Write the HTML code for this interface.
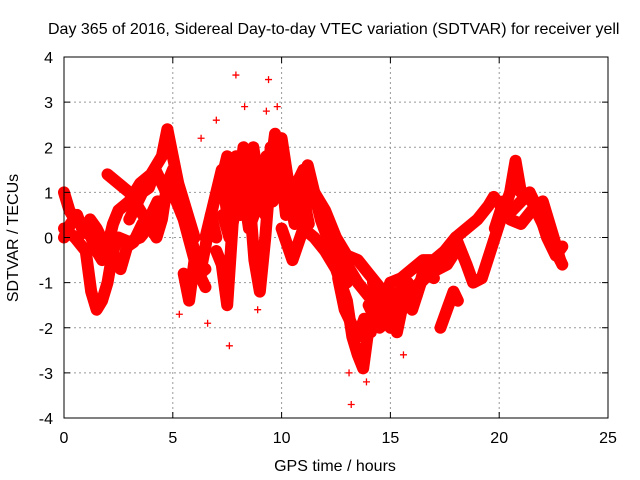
<!DOCTYPE html>
<html><head><meta charset="utf-8"><style>
body{margin:0;background:#fff;}
svg{display:block;font-family:"Liberation Sans",sans-serif;}
</style></head><body>
<svg id="chart" width="640" height="480">
<text x="48" y="34" font-size="16" fill="#000">Day 365 of 2016, Sidereal Day-to-day VTEC variation (SDTVAR) for receiver yell</text>
<g id="grid"></g>
<g id="marks"></g>
<rect x="64" y="57" width="544" height="361" fill="none" stroke="#000" stroke-width="1"/>
<g id="ticks"></g>
<text x="335" y="471" font-size="16" text-anchor="middle">GPS time / hours</text>
<text transform="translate(18,238) rotate(-90)" font-size="16" text-anchor="middle">SDTVAR / TECUs</text>
</svg>
<script>
const xTicks=[0,5,10,15,20,25];
const yTicks=[-4,-3,-2,-1,0,1,2,3,4];
const trackA=[[0,1.0],[0.25,0.6],[0.5,0.4],[0.75,0.3],[1,0.2],[1.25,0.0],[1.5,-0.3],[1.75,-0.5],[2,-0.2],[2.25,0.3],[2.5,0.6],[2.75,0.7],[3,0.8],[3.5,1.2],[4,1.4],[4.5,1.8],[4.75,2.4],[5,1.8],[5.25,1.2],[5.5,0.8],[5.75,0.4],[6,0.0]];
const trackB=[[0,0.2],[0.5,0.0],[1,-0.3],[1.25,-1.2],[1.5,-1.6],[1.75,-1.4],[2,-1.0],[2.25,-0.3],[2.5,0.0],[3,-0.1],[3.5,0.0],[4,0.3],[4.5,0.8],[5,1.0],[5.5,0.4],[6,-0.5],[6.25,-0.8],[6.5,-0.7]];
const trackC=[[2,1.4],[2.5,1.2],[3,1.0],[3.5,0.6],[4,0.2],[4.25,0.0],[4.5,0.4],[4.75,1.2],[5,1.5],[5.3,1.0]];
const trackD=[[2.3,-0.4],[2.6,-0.7],[2.9,-0.2],[3.2,-0.1],[3.6,0.3],[4,0.5],[4.3,0.8]];
const trackE=[[6.5,0.0],[7,1.0],[7.25,1.5],[7.5,0.5],[7.75,1.0],[8,1.5],[8.5,1.8],[9,1.5],[9.25,0.5],[9.5,2.0],[9.75,1.2],[10,2.2],[10.25,1.4],[10.5,0.7],[10.75,0.8],[11,0.9],[11.25,0.3]];
const trackF=[[7,-0.3],[7.25,-0.6],[7.5,-1.5],[7.75,0.3],[8,1.0],[8.25,2.0],[8.5,1.0],[8.75,-0.5],[9,-1.2],[9.25,0.0],[9.5,1.5],[10,1.0],[10.5,1.0],[11,1.5],[11.5,0.8],[12,0.4],[12.5,-0.2],[13,-0.6],[13.5,-1.0],[14,-1.3],[14.5,-1.5]];
const trackG=[[5.5,-0.8],[5.75,-1.4],[6,-0.5],[6.25,-0.8],[6.5,-0.2],[6.75,0.5],[7,0.0]];
const trackH=[[10,0.2],[10.5,-0.5],[11,0.2],[11.5,0.0],[12,-0.3],[12.5,-0.7],[13,-1.4],[13.25,-2.2],[13.5,-2.6],[13.75,-2.9],[14,-2.0],[14.5,-1.6],[15,-1.0]];
const trackI=[[11.5,1.0],[12,0.6],[12.5,0.0],[13,-0.4],[13.5,-0.5],[14,-0.8],[14.5,-1.1],[15,-1.3]];
const trackJ=[[14,-1.5],[14.5,-2.0],[15,-1.8],[15.5,-1.5],[16,-1.2],[16.5,-0.9],[17,-0.6],[17.5,-0.3],[18,0.0],[18.5,0.2],[19,0.4],[19.5,0.7],[19.75,0.9],[20.25,0.6],[20.5,0.4],[21,0.3],[21.5,0.6],[22,0.8],[22.5,0.0],[22.8,-0.5]];
const trackK=[[15,-1.0],[15.5,-0.9],[16,-0.7],[16.5,-0.5],[17,-0.5],[17.5,-0.3],[18,0.0],[18.5,-0.6],[18.8,-1.0],[19.2,-0.9],[19.6,-0.3],[20,0.3],[20.5,1.0],[20.75,1.7],[21,1.0],[21.5,0.8],[22,0.3],[22.5,-0.2],[22.9,-0.6]];
const trackL=[[17.3,-2.0],[17.6,-1.6],[17.9,-1.2],[18.1,-1.4]];
const trackM=[[7.2,1.2],[7.5,1.8],[7.8,1.0],[8.1,0.5],[8.4,1.5],[8.7,2.0],[9,1.0],[9.3,1.8],[9.6,0.8],[9.9,1.8],[10.2,0.5]];
const trackN=[[7.3,0.5],[7.6,0.0],[7.9,1.8],[8.2,1.2],[8.5,0.2],[8.8,0.6],[9.1,1.7],[9.4,1.2],[9.7,2.3],[10,1.4]];
const trackO=[[5.1,1.3],[5.4,0.6],[5.7,0.2],[6,-0.3],[6.2,-0.8],[6.5,-1.1]];
const trackP=[[10.3,1.0],[10.6,0.3],[10.9,0.5],[11.2,1.6],[11.5,1.0],[11.8,0.4],[12.1,0.0],[12.4,-0.4],[12.7,-0.8],[13,-1.0]];
const trackQ=[[14.6,-1.8],[15,-1.3],[15.3,-2.1],[15.6,-1.4],[16,-1.6],[16.4,-1.0],[16.8,-0.8],[17.2,-0.7],[17.6,-0.6],[18,-0.3]];
const trackR=[[14.2,-1.0],[14.6,-1.3],[15,-2.0],[15.4,-1.2],[15.8,-1.0],[16.2,-1.3],[16.6,-0.6],[17,-0.9]];
const trackS=[[19.8,0.2],[20.2,0.8],[20.6,0.6],[21,0.8],[21.4,1.0],[21.8,0.6],[22.2,0.0],[22.6,-0.4],[22.9,-0.2]];
const trackT=[[12.6,-0.9],[12.9,-1.6],[13.2,-1.9],[13.5,-2.2],[13.8,-1.8],[14.1,-2.1]];
const trackU=[[3,0.4],[3.3,0.7],[3.6,1.0],[3.9,1.1],[4.2,1.5],[4.5,1.2],[4.8,0.9]];
const trackV=[[0,0.0],[0.3,0.3],[0.6,0.5],[0.9,0.1],[1.2,0.4],[1.5,0.2],[1.8,-0.1]];
const outliers=[[7.9,3.6],[8.3,2.9],[9.4,3.5],[9.3,2.8],[9.8,2.9],[13.2,-3.7],[13.1,-3.0],[13.9,-3.2],[7.6,-2.4],[5.3,-1.7],[6.6,-1.9],[8.9,-1.6],[15.6,-2.6],[7.0,2.6],[6.3,2.2]];
const tracks=[trackA,trackB,trackC,trackD,trackE,trackF,trackG,trackH,trackI,trackJ,trackK,trackL,trackM,trackN,trackO,trackP,trackQ,trackR,trackS,trackT,trackU,trackV];
const X=v=>64+v*544/25, Y=v=>237.5-v*361/8;
const ns="http://www.w3.org/2000/svg";
const grid=document.getElementById('grid'),marks=document.getElementById('marks'),ticks=document.getElementById('ticks');
xTicks.forEach(t=>{
 const x=X(t);
 if(t>0&&t<25){const l=document.createElementNS(ns,'line');
 l.setAttribute('x1',x);l.setAttribute('x2',x);l.setAttribute('y1',57);l.setAttribute('y2',418);
 l.setAttribute('stroke','#999');l.setAttribute('stroke-dasharray','2,3');
 
 
 grid.appendChild(l);}
 const tk=document.createElementNS(ns,'path');
 tk.setAttribute('d',`M${x},418v-6M${x},57v6`);tk.setAttribute('stroke','#000');
 
 
 ticks.appendChild(tk);
 const tx=document.createElementNS(ns,'text');
 tx.setAttribute('x',x);tx.setAttribute('y',443);tx.setAttribute('font-size','16');tx.setAttribute('text-anchor','middle');
 tx.textContent=t;
 
 
 ticks.appendChild(tx);
});
yTicks.forEach(t=>{
 const y=Y(t);
 if(t>-4&&t<4){const l=document.createElementNS(ns,'line');
 l.setAttribute('x1',64);l.setAttribute('x2',608);l.setAttribute('y1',y);l.setAttribute('y2',y);
 l.setAttribute('stroke','#999');l.setAttribute('stroke-dasharray','2,3');
 
 
 grid.appendChild(l);}
 const tk=document.createElementNS(ns,'path');
 tk.setAttribute('d',`M64,${y}h6M608,${y}h-6`);tk.setAttribute('stroke','#000');
 
 
 ticks.appendChild(tk);
 const tx=document.createElementNS(ns,'text');
 tx.setAttribute('x',53);tx.setAttribute('y',y+6);tx.setAttribute('font-size','16');tx.setAttribute('text-anchor','end');
 tx.textContent=t;
 
 
 ticks.appendChild(tx);
});
function plus(p){
 const m=document.createElementNS(ns,'path');
 const x=X(p[0]),y=Y(p[1]);
 m.setAttribute('d',`M${x-3.5},${y}h7M${x},${y-3.5}v7`);
 m.setAttribute('stroke','#f00');m.setAttribute('stroke-width','1.3');
 
 
 marks.appendChild(m);
}
tracks.forEach(tr=>{
 const pl=document.createElementNS(ns,'polyline');
 pl.setAttribute('points',tr.map(p=>X(p[0])+','+Y(p[1])).join(' '));
 pl.setAttribute('fill','none');pl.setAttribute('stroke','#f00');pl.setAttribute('stroke-width','12');
 pl.setAttribute('stroke-linejoin','round');pl.setAttribute('stroke-linecap','round');
 
 
 marks.appendChild(pl);
 tr.forEach(plus);
});
outliers.forEach(plus);
</script>
</body></html>
